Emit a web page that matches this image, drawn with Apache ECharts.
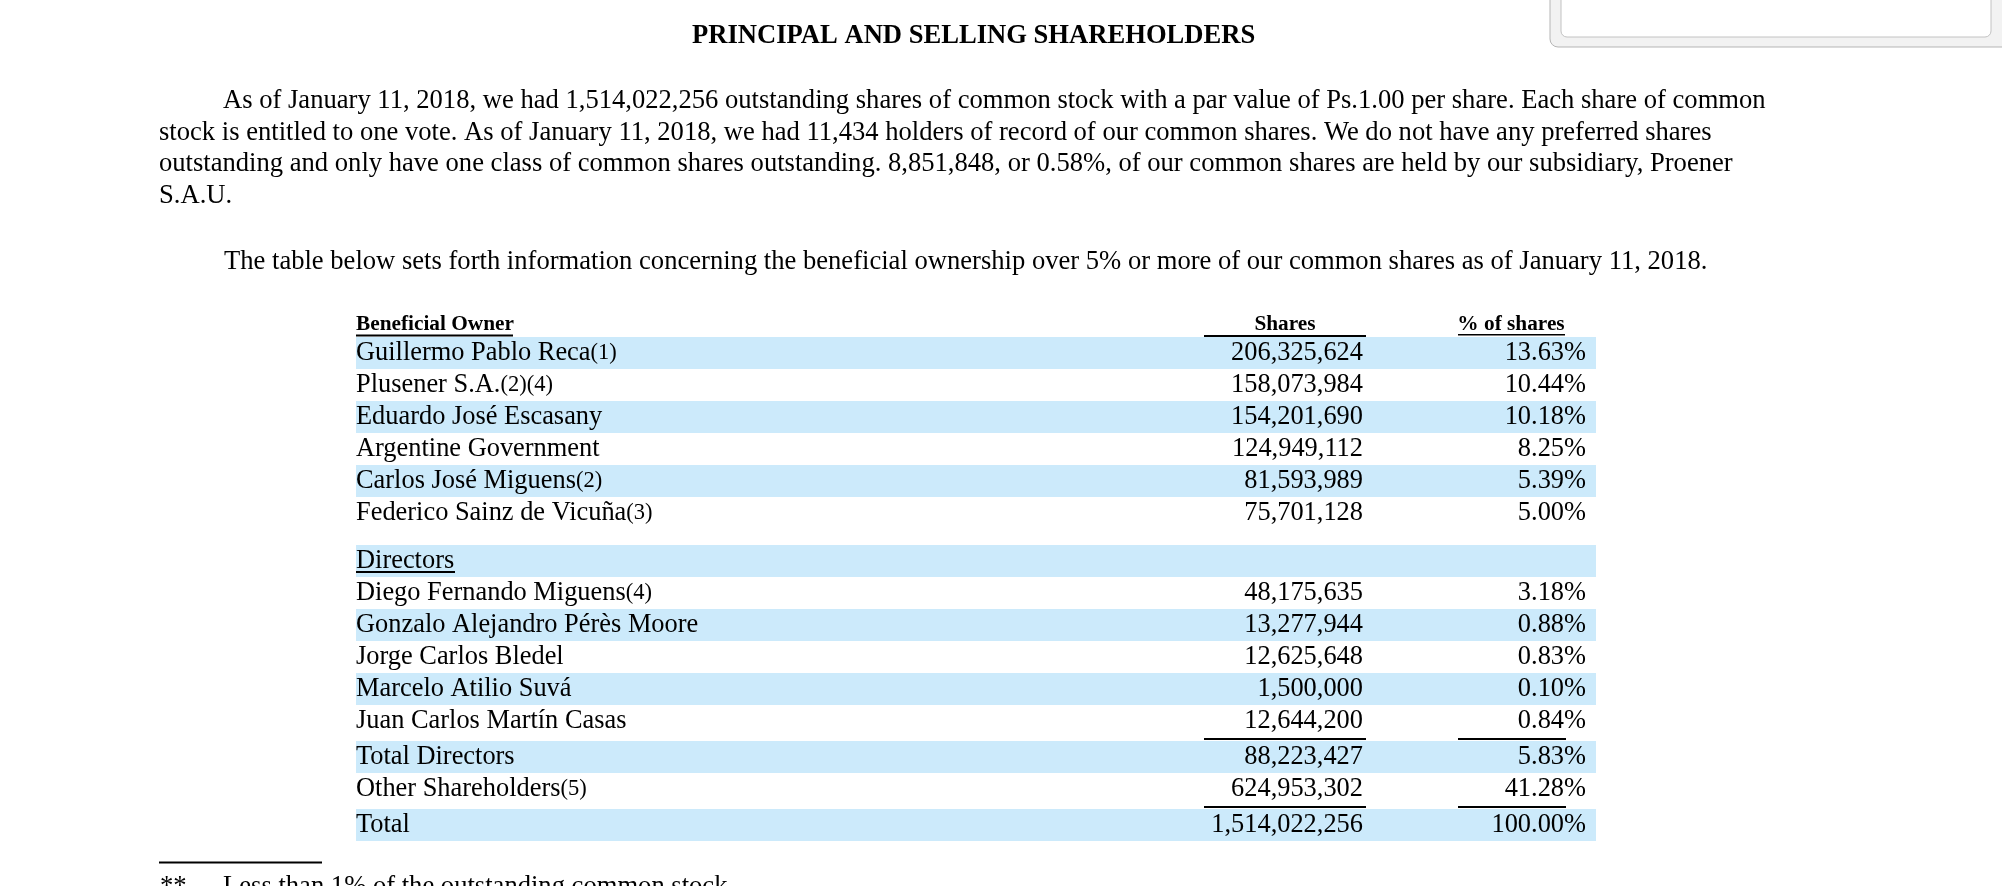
<!DOCTYPE html>
<html lang="en">
<head>
<meta charset="UTF-8">
<title>principal and selling shareholders</title>
<script src="https://cdn.jsdelivr.net/npm/echarts@6/dist/echarts.min.js"></script>
<style>html,body{margin:0;padding:0;background:#fff;}</style>
</head>
<body>
<div id="main" style="width:2002px;height:886px;"></div>
<script>
// --- data ---
var heading = 'PRINCIPAL AND SELLING SHAREHOLDERS';
var introLines = [
    'As of January 11, 2018, we had 1,514,022,256 outstanding shares of common stock with a par value of Ps.1.00 per share. Each share of common',
    'stock is entitled to one vote. As of January 11, 2018, we had 11,434 holders of record of our common shares. We do not have any preferred shares',
    'outstanding and only have one class of common shares outstanding. 8,851,848, or 0.58%, of our common shares are held by our subsidiary, Proener',
    'S.A.U.'
];
var tableIntro = 'The table below sets forth information concerning the beneficial ownership over 5% or more of our common shares as of January 11, 2018.';
var headers = ['Beneficial Owner', 'Shares', '% of shares'];

var owners = ['Guillermo Pablo Reca', 'Plusener S.A.', 'Eduardo José Escasany', 'Argentine Government', 'Carlos José Miguens', 'Federico Sainz de Vicuña'];
var ownerNotes = ['(1)', '(2)(4)', '', '', '(2)', '(3)'];
var ownerShares = [206325624, 158073984, 154201690, 124949112, 81593989, 75701128];
var ownerPct = [13.63, 10.44, 10.18, 8.25, 5.39, 5.00];

var sectionTitle = 'Directors';
var directors = ['Diego Fernando Miguens', 'Gonzalo Alejandro Pérès Moore', 'Jorge Carlos Bledel', 'Marcelo Atilio Suvá', 'Juan Carlos Martín Casas'];
var directorNotes = ['(4)', '', '', '', ''];
var directorShares = [48175635, 13277944, 12625648, 1500000, 12644200];
var directorPct = [3.18, 0.88, 0.83, 0.10, 0.84];

var totals = ['Total Directors', 'Other Shareholders', 'Total'];
var totalNotes = ['', '(5)', ''];
var totalShares = [88223427, 624953302, 1514022256];
var totalPct = [5.83, 41.28, 100.00];

var footMark = '**';
var footText = 'Less than 1% of the outstanding common stock';

// --- look ---
var SERIF = "'Liberation Serif', 'Times New Roman', serif";
var BAND = '#cceafb';
var FS = 26.6;      // page text
var CELL_FS = 26.4; // table cells
var NOTE_FS = 22.5; // footnote refs
var SHARES_RIGHT = 1007, PCT_RIGHT = 1230;
var SHARES_RULE = [848, 1010], PCT_RULE = [1102, 1210];

// build rows, with small gaps before the section and the totals
var rows = [];
function add(name, note, shares, pct, kind) {
    rows.push({ name: name, note: note, shares: shares, pct: pct, kind: kind });
}
owners.forEach(function (n, i) { add(n, ownerNotes[i], ownerShares[i], ownerPct[i], 'owner'); });
add(sectionTitle, '', null, null, 'section');
directors.forEach(function (n, i) { add(n, directorNotes[i], directorShares[i], directorPct[i], 'director'); });
totals.forEach(function (n, i) { add(n, totalNotes[i], totalShares[i], totalPct[i], i === 1 ? 'other' : 'total'); });

var slot = 0;
rows.forEach(function (r, i) {
    if (r.kind === 'section') slot += 0.5;
    if (r.kind === 'total') slot += 0.125;
    r.slot = slot;
    slot += 1;
    var next = rows[i + 1];
    r.ruled = !!next && next.kind === 'total';
});
var slotCount = slot;

function fmtShares(v) { return v.toLocaleString('en-US'); }
function fmtPct(v) { return v.toFixed(2) + '%'; }

function renderRow(params, api) {
    var r = rows[params.dataIndex];
    var cs = params.coordSys;
    var top = api.coord([0, api.value(1)])[1];
    var bottom = api.coord([0, api.value(1) + 1])[1];
    var mid = (top + bottom) / 2 + 0.5;
    var left = cs.x;
    var kids = [];
    if (params.dataIndex % 2 === 0) {
        kids.push({ type: 'rect', shape: { x: left, y: top, width: cs.width, height: bottom - top }, style: { fill: BAND } });
    }
    var rich = {
        n: { fontFamily: SERIF, fontSize: CELL_FS, fill: '#000', verticalAlign: 'middle', lineHeight: CELL_FS },
        s: { fontFamily: SERIF, fontSize: NOTE_FS, fill: '#000', verticalAlign: 'middle', lineHeight: CELL_FS }
    };
    kids.push({
        type: 'text', x: left, y: mid,
        style: { text: '{n|' + r.name + '}' + (r.note ? '{s|' + r.note + '}' : ''), rich: rich, verticalAlign: 'middle', align: 'left' }
    });
    if (r.kind === 'section') {
        kids.push({ type: 'rect', shape: { x: left, y: bottom - 6, width: 99, height: 2 }, style: { fill: '#000' } });
    }
    if (r.shares !== null) {
        kids.push({
            type: 'text', x: left + SHARES_RIGHT, y: mid,
            style: { text: fmtShares(r.shares), fontFamily: SERIF, fontSize: CELL_FS, fill: '#000', align: 'right', verticalAlign: 'middle' }
        });
        kids.push({
            type: 'text', x: left + PCT_RIGHT, y: mid,
            style: { text: fmtPct(r.pct), fontFamily: SERIF, fontSize: CELL_FS, fill: '#000', align: 'right', verticalAlign: 'middle' }
        });
    }
    if (r.ruled) {
        kids.push({ type: 'rect', shape: { x: left + SHARES_RULE[0], y: bottom + 1, width: SHARES_RULE[1] - SHARES_RULE[0], height: 2 }, style: { fill: '#000' } });
        kids.push({ type: 'rect', shape: { x: left + PCT_RULE[0], y: bottom + 1, width: PCT_RULE[1] - PCT_RULE[0], height: 2 }, style: { fill: '#000' } });
    }
    return { type: 'group', children: kids };
}

var chart = echarts.init(document.getElementById('main'), null, { renderer: 'canvas' });

var bodyStyle = { fontFamily: SERIF, fontSize: FS, fill: '#000', verticalAlign: 'middle' };
var graphics = [
    // browser search box remnant at top right
    { type: 'rect', shape: { x: 1550, y: -20, width: 480, height: 67, r: 8 }, style: { fill: '#f2f2f2', stroke: '#b5b5b5', lineWidth: 1 } },
    { type: 'rect', shape: { x: 1561, y: -20, width: 430, height: 57, r: 6 }, style: { fill: '#ffffff', stroke: '#c2c2c2', lineWidth: 1 } },
    { type: 'text', x: 692, y: 36.5, style: { text: heading, fontFamily: SERIF, fontSize: FS, fontWeight: 'bold', fill: '#000', verticalAlign: 'middle' } },
    { type: 'text', x: 224, y: 262, style: Object.assign({ text: tableIntro }, bodyStyle) },
    // table headers
    { type: 'text', x: 356, y: 324, style: { text: headers[0], fontFamily: SERIF, fontSize: 21.3, fontWeight: 'bold', fill: '#000', verticalAlign: 'middle' } },
    { type: 'rect', shape: { x: 356, y: 334.5, width: 157, height: 2 }, style: { fill: '#000' } },
    { type: 'text', x: 1285, y: 324.5, style: { text: headers[1], fontFamily: SERIF, fontSize: 21.3, fontWeight: 'bold', fill: '#000', align: 'center', verticalAlign: 'middle' } },
    { type: 'rect', shape: { x: 1204, y: 335, width: 162, height: 2 }, style: { fill: '#000' } },
    { type: 'text', x: 1511, y: 324.5, style: { text: headers[2], fontFamily: SERIF, fontSize: 21.3, fontWeight: 'bold', fill: '#000', align: 'center', verticalAlign: 'middle' } },
    { type: 'rect', shape: { x: 1458, y: 334, width: 107, height: 1.5 }, style: { fill: '#000' } },
    // footnote
    { type: 'rect', shape: { x: 159, y: 861.5, width: 163, height: 2 }, style: { fill: '#000' } },
    { type: 'text', x: 160, y: 887, style: Object.assign({ text: footMark }, bodyStyle) },
    { type: 'text', x: 223, y: 887, style: Object.assign({ text: footText }, bodyStyle) }
];
introLines.forEach(function (line, i) {
    graphics.push({ type: 'text', x: i === 0 ? 223 : 159, y: 101 + i * 31.7, style: Object.assign({ text: line }, bodyStyle) });
});

chart.setOption({
    backgroundColor: '#ffffff',
    animation: false,
    grid: { left: 356, top: 337, width: 1240, height: slotCount * 32 },
    xAxis: { type: 'value', min: 0, max: 1, show: false },
    yAxis: { type: 'value', min: 0, max: slotCount, inverse: true, show: false },
    graphic: graphics,
    series: [{
        type: 'custom',
        renderItem: renderRow,
        clip: false,
        silent: true,
        encode: { x: 0, y: 1 },
        data: rows.map(function (r, i) { return [i, r.slot]; })
    }]
});
</script>
</body>
</html>
